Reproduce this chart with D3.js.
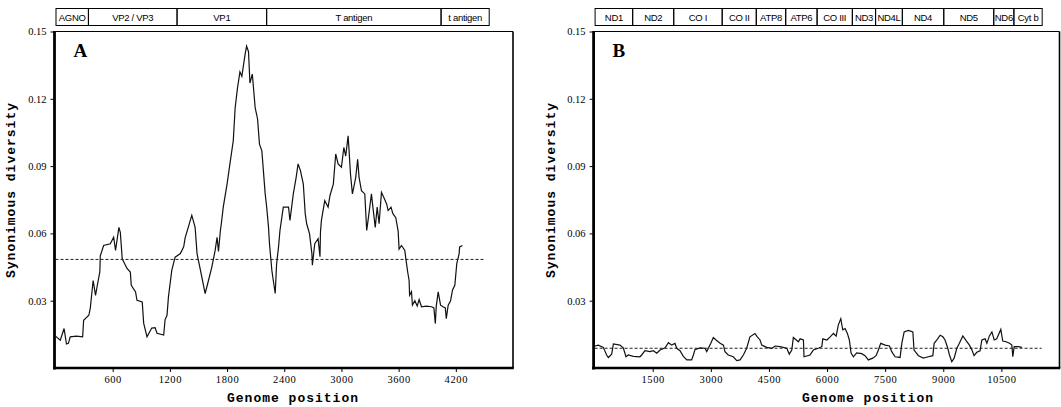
<!DOCTYPE html>
<html>
<head>
<meta charset="utf-8">
<script src="https://cdn.jsdelivr.net/npm/d3@7"></script>
<style>
  body { margin: 0; background: #fff; }
  svg { display: block; }
</style>
</head>
<body>
<svg width="1061" height="407"></svg>
<script>
// panel A (polyomavirus) - sliding window synonymous diversity
const posA = [0, 50, 90, 115, 135, 155, 220, 285, 295, 350, 365, 395, 420, 435, 465, 470, 505, 575, 610, 630, 665, 680, 700, 750, 785, 795, 840, 855, 910, 925, 960, 1010, 1045, 1065, 1135, 1150, 1170, 1185, 1220, 1255, 1310, 1345, 1360, 1430, 1465, 1485, 1535, 1570, 1605, 1640, 1675, 1695, 1710, 1730, 1740, 1760, 1800, 1830, 1865, 1885, 1910, 1935, 1955, 1990, 2005, 2025, 2040, 2065, 2095, 2120, 2140, 2165, 2200, 2215, 2235, 2245, 2270, 2285, 2305, 2320, 2340, 2355, 2390, 2445, 2460, 2495, 2525, 2545, 2570, 2600, 2620, 2635, 2665, 2690, 2695, 2720, 2755, 2775, 2780, 2790, 2825, 2860, 2880, 2915, 2940, 2965, 3000, 3025, 3045, 3070, 3080, 3095, 3115, 3130, 3150, 3170, 3185, 3210, 3245, 3265, 3280, 3315, 3330, 3355, 3375, 3395, 3420, 3445, 3475, 3490, 3520, 3540, 3570, 3595, 3605, 3630, 3665, 3675, 3695, 3710, 3715, 3735, 3745, 3770, 3795, 3815, 3840, 3890, 3945, 3970, 3985, 3995, 4015, 4040, 4065, 4090, 4100, 4120, 4145, 4165, 4190, 4210, 4235, 4240, 4270];
const divA = [0.0142, 0.0124, 0.0176, 0.0107, 0.011, 0.0139, 0.0142, 0.0139, 0.0213, 0.0235, 0.0267, 0.039, 0.0324, 0.036, 0.0428, 0.05, 0.0546, 0.0554, 0.0583, 0.0524, 0.0627, 0.0605, 0.0487, 0.0444, 0.0428, 0.0369, 0.0339, 0.0302, 0.0294, 0.02, 0.0139, 0.0178, 0.018, 0.0155, 0.0147, 0.0216, 0.0235, 0.0317, 0.0435, 0.0494, 0.051, 0.054, 0.058, 0.068, 0.0627, 0.051, 0.0406, 0.0332, 0.039, 0.045, 0.0524, 0.0583, 0.052, 0.0613, 0.0644, 0.0717, 0.082, 0.091, 0.1013, 0.116, 0.125, 0.132, 0.13, 0.14, 0.1435, 0.141, 0.127, 0.131, 0.116, 0.111, 0.0998, 0.0968, 0.0776, 0.072, 0.0627, 0.0554, 0.0435, 0.039, 0.0332, 0.0465, 0.054, 0.0613, 0.0717, 0.0717, 0.0658, 0.0776, 0.085, 0.091, 0.088, 0.082, 0.0688, 0.0643, 0.0599, 0.051, 0.0458, 0.0554, 0.0576, 0.0496, 0.0606, 0.0658, 0.0746, 0.0717, 0.0769, 0.082, 0.0954, 0.091, 0.0895, 0.0983, 0.0945, 0.1035, 0.097, 0.0865, 0.0776, 0.0806, 0.085, 0.093, 0.085, 0.079, 0.0776, 0.0613, 0.066, 0.0776, 0.0717, 0.0627, 0.0717, 0.0643, 0.0783, 0.076, 0.073, 0.0702, 0.0717, 0.0688, 0.067, 0.061, 0.053, 0.0546, 0.0524, 0.049, 0.0428, 0.039, 0.0324, 0.034, 0.028, 0.03, 0.0276, 0.0305, 0.0273, 0.0276, 0.0273, 0.0268, 0.0198, 0.0276, 0.0339, 0.028, 0.0273, 0.0268, 0.022, 0.028, 0.03, 0.0347, 0.037, 0.0465, 0.051, 0.054, 0.0546];
const meanA = 0.0484;
const meanEndA = 4500;
const genesA = ["AGNO", "VP2 / VP3", "VP1", "T antigen", "t antigen"];
const geneEdgesA = [0, 340, 1270, 2210, 4040, 4545];
const xTicksA = [600, 1200, 1800, 2400, 3000, 3600, 4200];

// panel B (mitochondrial genome)
const posB = [10, 95, 225, 310, 355, 440, 485, 655, 740, 810, 870, 1000, 1170, 1215, 1300, 1430, 1515, 1605, 1690, 1820, 1905, 1990, 2075, 2120, 2205, 2290, 2380, 2505, 2550, 2590, 2720, 2850, 2895, 2935, 3000, 3065, 3135, 3240, 3325, 3365, 3450, 3580, 3670, 3755, 3840, 3925, 4010, 4140, 4200, 4270, 4315, 4445, 4575, 4660, 4785, 4960, 5025, 5090, 5130, 5260, 5305, 5390, 5405, 5560, 5645, 5775, 5865, 5890, 5995, 6080, 6165, 6235, 6290, 6355, 6405, 6465, 6525, 6575, 6620, 6680, 6765, 6895, 6980, 7065, 7180, 7265, 7325, 7385, 7500, 7610, 7670, 7755, 7885, 7930, 7990, 8100, 8215, 8245, 8360, 8485, 8615, 8730, 8765, 8835, 8920, 8990, 9045, 9105, 9160, 9220, 9280, 9350, 9415, 9505, 9590, 9675, 9735, 9795, 9865, 9950, 9995, 10080, 10125, 10190, 10255, 10315, 10380, 10485, 10535, 10620, 10710, 10770, 10795, 10830, 10940, 11030];
const divB = [0.0098, 0.0102, 0.0092, 0.0058, 0.0047, 0.0062, 0.0107, 0.0102, 0.009, 0.005, 0.0058, 0.0052, 0.005, 0.0058, 0.0077, 0.0073, 0.0077, 0.0066, 0.008, 0.009, 0.0113, 0.0102, 0.011, 0.0088, 0.0077, 0.0052, 0.0036, 0.0036, 0.0058, 0.0082, 0.009, 0.0088, 0.0073, 0.0088, 0.011, 0.0136, 0.0125, 0.011, 0.0102, 0.0073, 0.0058, 0.005, 0.0033, 0.0036, 0.0058, 0.0088, 0.0139, 0.0154, 0.0139, 0.0125, 0.0102, 0.0092, 0.0088, 0.0098, 0.0095, 0.0088, 0.0062, 0.008, 0.0136, 0.0117, 0.013, 0.0125, 0.005, 0.0058, 0.008, 0.0088, 0.0095, 0.013, 0.0125, 0.0139, 0.0154, 0.0142, 0.0191, 0.022, 0.017, 0.0176, 0.0154, 0.0125, 0.0067, 0.005, 0.0067, 0.0064, 0.0055, 0.0036, 0.0044, 0.0055, 0.008, 0.011, 0.0102, 0.0098, 0.0073, 0.005, 0.0047, 0.011, 0.0161, 0.0168, 0.0161, 0.008, 0.0055, 0.0044, 0.005, 0.0055, 0.011, 0.0125, 0.0146, 0.0139, 0.0125, 0.0095, 0.0058, 0.0028, 0.0044, 0.0088, 0.011, 0.0143, 0.0122, 0.0102, 0.0082, 0.0055, 0.007, 0.0077, 0.0125, 0.013, 0.011, 0.0143, 0.0161, 0.0125, 0.013, 0.0172, 0.012, 0.0117, 0.011, 0.0102, 0.005, 0.0095, 0.0095, 0.0092];
const meanB = 0.0088;
const meanEndB = 11540;
const genesB = ["ND1", "ND2", "CO I", "CO II", "ATP8", "ATP6", "CO III", "ND3", "ND4L", "ND4", "ND5", "ND6", "Cyt b"];
const geneEdgesB = [0, 970, 2030, 3280, 4160, 4920, 5730, 6640, 7240, 7930, 9000, 10290, 10810, 11540];
const xTicksB = [1500, 3000, 4500, 6000, 7500, 9000, 10500];

const yTicks = [0.03, 0.06, 0.09, 0.12, 0.15];

const svg = d3.select('svg');
const top_ = 31.5, bottom = 368;

function drawPanel(p) {
    const xScale = d3.scaleLinear().domain([0, p.xMax]).range([p.left, p.right]);
    const yScale = d3.scaleLinear().domain([0, 0.15]).range([bottom, top_]);
    const g = svg.append('g');

    // gene map boxes across the top
    const cells = p.genes.map((name, i) => ({name: name, a: p.edges[i], b: p.edges[i + 1]}));
    g.selectAll('.gene').data(cells).join('rect')
        .attr('x', d => xScale(d.a) + 0.5)
        .attr('y', 8.5)
        .attr('width', d => xScale(d.b) - xScale(d.a))
        .attr('height', 17)
        .attr('fill', 'none')
        .attr('stroke', '#000')
        .attr('stroke-width', 1);
    g.selectAll('.geneText').data(cells).join('text')
        .attr('x', d => (xScale(d.a) + xScale(d.b)) / 2 + 0.5)
        .attr('y', 21)
        .attr('text-anchor', 'middle')
        .style('font-family', 'Liberation Sans, Arial, sans-serif')
        .style('font-size', '9.5px')
        .style('letter-spacing', '-0.3px')
        .text(d => d.name);

    // frame: thin top/right, thick left/bottom
    g.append('line').attr('x1', p.left).attr('x2', p.right).attr('y1', top_).attr('y2', top_)
        .attr('stroke', '#000').attr('stroke-width', 1.2);
    g.append('line').attr('x1', p.right).attr('x2', p.right).attr('y1', top_).attr('y2', bottom)
        .attr('stroke', '#000').attr('stroke-width', 1.6);

    // y axis
    const yAxis = g.append('g')
        .attr('transform', `translate(${p.left - 1},0)`)
        .call(d3.axisLeft(yScale).tickValues(yTicks).tickFormat(d3.format('.2f')).tickSize(4).tickPadding(4));
    yAxis.select('.domain').remove();
    yAxis.selectAll('text').style('font-family', 'Liberation Serif, Times New Roman, serif').style('font-size', '10.5px');
    yAxis.selectAll('line').attr('stroke-width', 1);

    // x axis
    const xAxis = g.append('g')
        .attr('transform', `translate(0,${bottom})`)
        .call(d3.axisBottom(xScale).tickValues(p.xTicks).tickFormat(d3.format('d')).tickSize(4).tickPadding(4));
    xAxis.select('.domain').remove();
    xAxis.selectAll('text').style('font-family', 'Liberation Serif, Times New Roman, serif').style('font-size', '10.5px').style('letter-spacing', '0.6px');
    xAxis.selectAll('line').attr('stroke-width', 1);

    g.append('line').attr('x1', p.left - 1).attr('x2', p.left - 1).attr('y1', top_ - 0.5).attr('y2', bottom + 1.5)
        .attr('stroke', '#000').attr('stroke-width', 2.8);
    g.append('line').attr('x1', p.left - 2.4).attr('x2', p.right + 0.8).attr('y1', bottom).attr('y2', bottom)
        .attr('stroke', '#000').attr('stroke-width', 2.6);

    // mean line
    g.append('line')
        .attr('x1', xScale(0)).attr('x2', xScale(p.meanEnd))
        .attr('y1', yScale(p.mean)).attr('y2', yScale(p.mean))
        .attr('stroke', '#222').attr('stroke-width', 1).attr('stroke-dasharray', '3,2');

    // diversity curve
    const pts = p.pos.map((x, i) => [x, p.div[i]]);
    const line = d3.line().x(d => xScale(d[0])).y(d => yScale(d[1]));
    g.append('path').datum(pts)
        .attr('d', line)
        .attr('fill', 'none')
        .attr('stroke', '#111')
        .attr('stroke-width', 1.2)
        .attr('stroke-linejoin', 'miter');

    // panel letter
    g.append('text').attr('x', p.left + 18).attr('y', 57)
        .style('font-family', 'Liberation Serif, Times New Roman, serif')
        .style('font-weight', 'bold').style('font-size', '19px')
        .text(p.letter);

    // axis titles
    g.append('text').attr('x', p.xLabelX).attr('y', 402)
        .style('font-family', 'Liberation Mono, Courier New, monospace')
        .style('font-weight', 'bold').style('font-size', '13px').style('letter-spacing', '1px')
        .text('Genome position');
    g.append('text')
        .attr('transform', `translate(${p.yLabelX},190) rotate(-90)`)
        .attr('text-anchor', 'middle')
        .style('font-family', 'Liberation Mono, Courier New, monospace')
        .style('font-weight', 'bold').style('font-size', '13px').style('letter-spacing', '1px')
        .text('Synonimous diversity');
}

drawPanel({left: 55.5, right: 513, xMax: 4800, xTicks: xTicksA, genes: genesA, edges: geneEdgesA,
    pos: posA, div: divA, mean: meanA, meanEnd: meanEndA, letter: 'A', xLabelX: 227, yLabelX: 15});
drawPanel({left: 594.6, right: 1059.5, xMax: 12000, xTicks: xTicksB, genes: genesB, edges: geneEdgesB,
    pos: posB, div: divB, mean: meanB, meanEnd: meanEndB, letter: 'B', xLabelX: 802, yLabelX: 555});
</script>
</body>
</html>
